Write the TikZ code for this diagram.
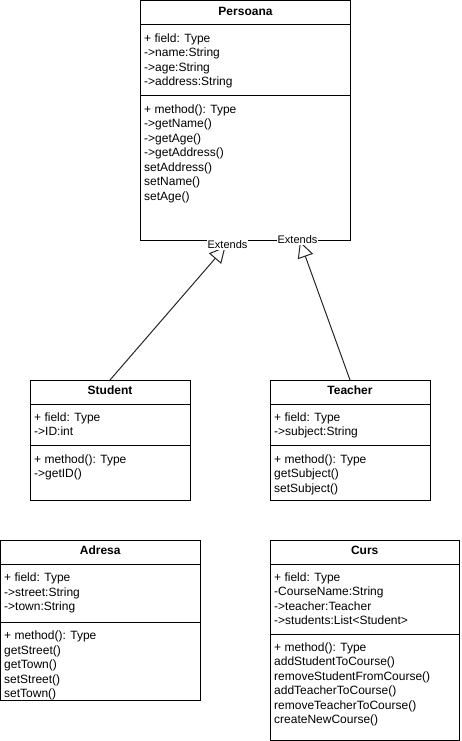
\documentclass[tikz,border=0pt]{standalone}
\usepackage{fontspec}
\setmainfont{Liberation Sans}
\usetikzlibrary{arrows.meta}
\begin{document}
\begin{tikzpicture}[x=1pt,y=-1pt,
  box/.style={draw=black, line width=1pt, fill=white, inner sep=0pt, outer sep=0pt},
  sep/.style={draw=black, line width=1pt},
  title/.style={font=\fontsize{12}{14.4}\selectfont\bfseries, anchor=base, inner sep=0pt},
  txt/.style={font=\fontsize{12}{14.5}\selectfont, anchor=north west, inner sep=0pt, align=left},
  ext/.style={font=\fontsize{11}{13}\selectfont, fill=white, inner sep=0.8pt},
  inh/.style={draw=black!85, line width=1pt, -{Triangle[open, length=16pt, width=16pt]}}
]
\useasboundingbox (0,0) rectangle (461,741);

% Persoana
\node[box, minimum width=210pt, minimum height=239pt] (persoana) at (245.5,120.5) {};
\draw[sep] (140.5,25) -- (350.5,25);
\draw[sep] (140.5,96) -- (350.5,96);
\node[title] (tP) at (245.5,15.5) {Persoana};
\node[txt] (fP) at (144,31.8) {\strut + field: Type\\->name:String\\->age:String\\->address:String};
\node[txt] (mP) at (144,102.8) {\strut + method(): Type\\->getName()\\->getAge()\\->getAddress()\\setAddress()\\setName()\\setAge()};

% Student
\node[box, minimum width=160pt, minimum height=120pt] (student) at (110,440) {};
\draw[sep] (30,404) -- (190,404);
\draw[sep] (30,445.5) -- (190,445.5);
\node[title] (tS) at (110,394.5) {Student};
\node[txt] (fS) at (34,410.8) {\strut + field: Type\\->ID:int};
\node[txt] (mS) at (34,452.8) {\strut + method(): Type\\->getID()};

% Teacher
\node[box, minimum width=160pt, minimum height=120pt] (teacher) at (350,440) {};
\draw[sep] (270,404) -- (430,404);
\draw[sep] (270,445.5) -- (430,445.5);
\node[title] (tT) at (350,394.5) {Teacher};
\node[txt] (fT) at (274,410.8) {\strut + field: Type\\->subject:String};
\node[txt] (mT) at (274,452.8) {\strut + method(): Type\\getSubject()\\setSubject()};

% Adresa
\node[box, minimum width=199.5pt, minimum height=160pt] (adresa) at (100.25,620) {};
\draw[sep] (0.5,564) -- (200,564);
\draw[sep] (0.5,622.5) -- (200,622.5);
\node[title] (tA) at (100.25,554.5) {Adresa};
\node[txt] (fA) at (4,571.2) {\strut + field: Type\\->street:String\\->town:String};
\node[txt] (mA) at (4,629.2) {\strut + method(): Type\\getStreet()\\getTown()\\setStreet()\\setTown()};

% Curs
\node[box, minimum width=189.5pt, minimum height=200pt] (curs) at (364.75,640) {};
\draw[sep] (270,564) -- (459.5,564);
\draw[sep] (270,634) -- (459.5,634);
\node[title] (tC) at (364.75,554.5) {Curs};
\node[txt] (fC) at (274,570.8) {\strut + field: Type\\-CourseName:String\\->teacher:Teacher\\->students:List<Student>};
\node[txt] (mC) at (274,640.8) {\strut + method(): Type\\addStudentToCourse()\\removeStudentFromCourse()\\addTeacherToCourse()\\removeTeacherToCourse()\\createNewCourse()};

% Inheritance
\coordinate (t1) at (225.5,246.5);
\coordinate (t2) at (300,241.5);
\draw[inh] (student.north) -- (t1);
\draw[inh] (teacher.north) -- (t2);
\node[ext] (e1) at (227.5,245) {Extends};
\node[ext] (e2) at (297.5,240) {Extends};
\end{tikzpicture}
\end{document}
